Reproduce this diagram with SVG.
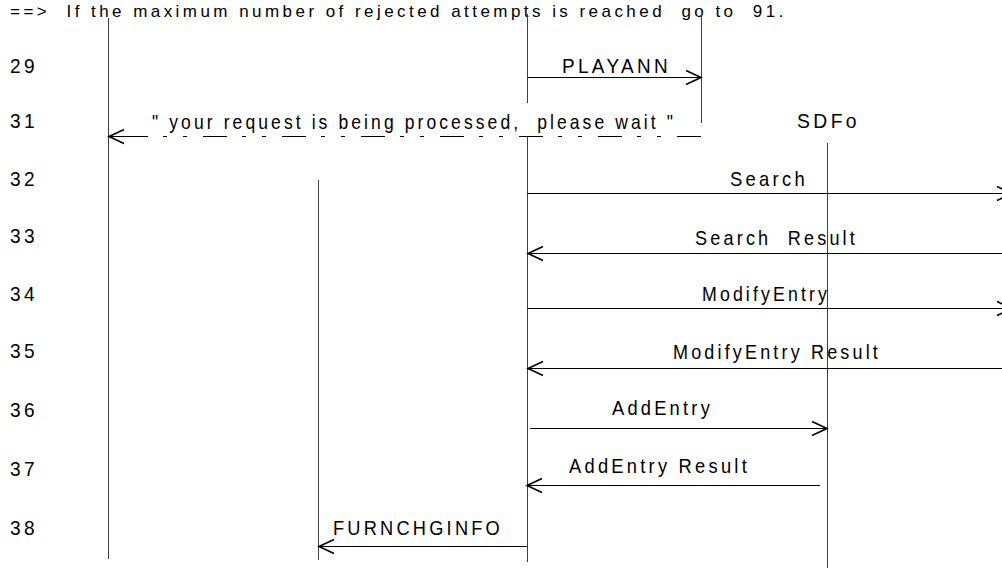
<svg xmlns="http://www.w3.org/2000/svg" width="1002" height="568" viewBox="0 0 1002 568">
<style>
text { font-family: "Liberation Sans", Arial, sans-serif; font-size: 21px; letter-spacing: 3.7px; fill: #000; white-space: pre; }
text.hdr { font-size: 17px; letter-spacing: 3.45px; }
.life { stroke: #404040; stroke-width: 1; fill: none; }
.msg { stroke: #000; stroke-width: 1; fill: none; }
.dash { stroke: #000; stroke-width: 1; fill: none; stroke-dasharray: 24 16 4 16 4 15; }
</style>
<defs>
<marker id="ah" markerUnits="userSpaceOnUse" markerWidth="20" markerHeight="20" viewBox="-17 -10 20 20" refX="0" refY="0" orient="auto" overflow="visible">
<path d="M-15,-7 L0,0 L-15,7" fill="none" stroke="#000" stroke-width="1.6"/>
</marker>
</defs>
<rect width="1002" height="568" fill="#fff"/>

<g id="header">
<text class="hdr" x="10" y="17" xml:space="preserve">==&gt;  If the maximum number of rejected attempts is reached  go to  91.</text>
</g>

<g id="row-numbers">
<text x="10" y="73" textLength="28" lengthAdjust="spacingAndGlyphs">29</text>
<text x="10" y="128" textLength="28" lengthAdjust="spacingAndGlyphs">31</text>
<text x="10" y="186" textLength="28" lengthAdjust="spacingAndGlyphs">32</text>
<text x="10" y="243" textLength="28" lengthAdjust="spacingAndGlyphs">33</text>
<text x="10" y="301" textLength="28" lengthAdjust="spacingAndGlyphs">34</text>
<text x="10" y="358" textLength="28" lengthAdjust="spacingAndGlyphs">35</text>
<text x="10" y="417" textLength="28" lengthAdjust="spacingAndGlyphs">36</text>
<text x="10" y="476" textLength="28" lengthAdjust="spacingAndGlyphs">37</text>
<text x="10" y="535" textLength="28" lengthAdjust="spacingAndGlyphs">38</text>
</g>

<g id="lifeline-a"><line class="life" x1="108.5" y1="18" x2="108.5" y2="559"/></g>
<g id="lifeline-b"><line class="life" x1="318.5" y1="180" x2="318.5" y2="560"/></g>
<g id="lifeline-c">
<line class="life" x1="527.5" y1="14" x2="527.5" y2="103"/>
<line class="life" x1="527.5" y1="137" x2="527.5" y2="562"/>
</g>
<g id="lifeline-d"><line class="life" x1="701.5" y1="14" x2="701.5" y2="123"/></g>
<g id="lifeline-sdfo">
<text x="797" y="128" textLength="63" lengthAdjust="spacingAndGlyphs">SDFo</text>
<line class="life" x1="827.5" y1="143" x2="827.5" y2="568"/>
</g>

<g id="connectors">
<line class="msg" x1="527.5" y1="77.5" x2="701" y2="77.5" marker-end="url(#ah)"/>
<text x="562" y="73" textLength="109" lengthAdjust="spacingAndGlyphs">PLAYANN</text>

<line class="dash" x1="701" y1="136.5" x2="148" y2="136.5"/>
<line class="msg" x1="148" y1="136.5" x2="109" y2="136.5" marker-end="url(#ah)"/>
<text x="152" y="129" xml:space="preserve" textLength="524" lengthAdjust="spacingAndGlyphs">" your request is being processed,  please wait "</text>

<line class="msg" x1="527.5" y1="193.5" x2="1012" y2="193.5" marker-end="url(#ah)"/>
<text x="730" y="186" textLength="78" lengthAdjust="spacingAndGlyphs">Search</text>

<line class="msg" x1="1002" y1="253.5" x2="528" y2="253.5" marker-end="url(#ah)"/>
<text x="695" y="245" xml:space="preserve" textLength="163" lengthAdjust="spacingAndGlyphs">Search  Result</text>

<line class="msg" x1="527.5" y1="308.5" x2="1012" y2="308.5" marker-end="url(#ah)"/>
<text x="702" y="301" textLength="128" lengthAdjust="spacingAndGlyphs">ModifyEntry</text>

<line class="msg" x1="1002" y1="368.5" x2="528" y2="368.5" marker-end="url(#ah)"/>
<text x="673" y="359" textLength="208" lengthAdjust="spacingAndGlyphs">ModifyEntry Result</text>

<line class="msg" x1="530" y1="428.5" x2="827" y2="428.5" marker-end="url(#ah)"/>
<text x="612" y="415" textLength="101" lengthAdjust="spacingAndGlyphs">AddEntry</text>

<line class="msg" x1="820" y1="485.5" x2="527" y2="485.5" marker-end="url(#ah)"/>
<text x="569" y="473" textLength="181" lengthAdjust="spacingAndGlyphs">AddEntry Result</text>

<line class="msg" x1="527" y1="546.5" x2="319" y2="546.5" marker-end="url(#ah)"/>
<text x="333" y="535" textLength="170" lengthAdjust="spacingAndGlyphs">FURNCHGINFO</text>
</g>
</svg>
